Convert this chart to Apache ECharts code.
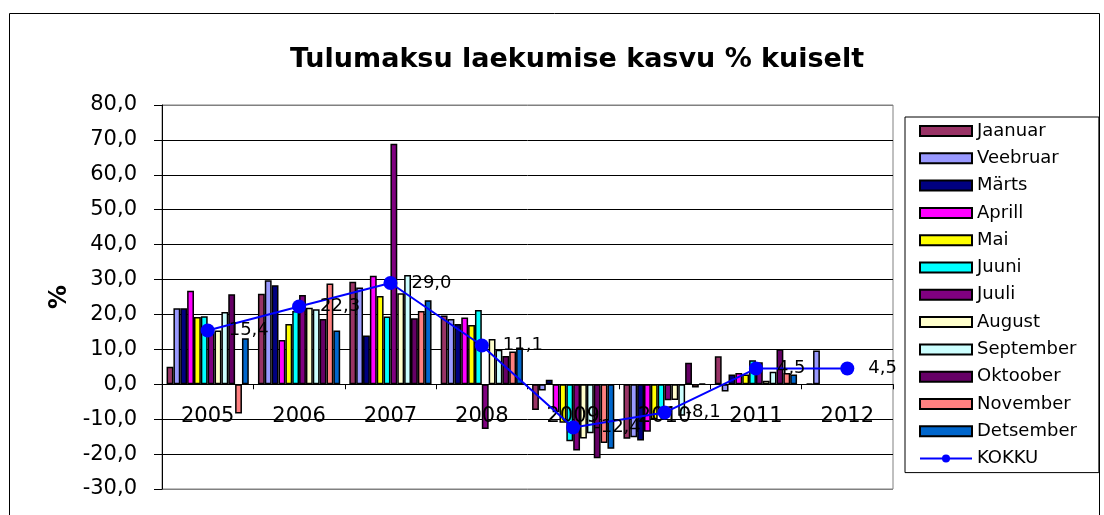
<!DOCTYPE html>
<html>
<head>
<meta charset="utf-8">
<script src="https://cdn.jsdelivr.net/npm/echarts@6/dist/echarts.min.js"></script>
<style>
html,body{margin:0;padding:0;background:#fff;}
#chart{width:1104px;height:515px;}
</style>
</head>
<body>
<div id="chart"></div>
<script>
const categories = ['2005','2006','2007','2008','2009','2010','2011','2012'];
const monthNames = ['Jaanuar','Veebruar','Märts','Aprill','Mai','Juuni','Juuli','August','September','Oktoober','November','Detsember'];
const jaanuar   = [5.0, 25.9, 29.4, 19.7, -7.4, -15.6, 8.0, 0.2];
const veebruar  = [21.8, 29.8, 27.7, 18.7, -1.8, -15.2, -2.1, 9.7];
const marts     = [21.8, 28.4, 14.0, 17.3, 1.3, -16.1, 2.8, null];
const aprill    = [26.8, 12.7, 31.1, 19.1, -8.0, -13.6, 3.2, null];
const mai       = [19.3, 17.3, 25.3, 17.0, -11.0, -10.0, 2.8, null];
const juuni     = [19.5, 21.0, 19.4, 21.3, -16.3, -8.5, 6.9, null];
const juuli     = [15.0, 25.6, 68.9, -12.8, -19.0, -4.6, 6.3, null];
const august    = [15.4, 21.9, 26.1, 13.0, -15.5, -4.5, 1.0, null];
const september = [20.7, 21.5, 31.3, 9.9, -14.0, -9.0, 3.6, null];
const oktoober  = [25.8, 18.7, 18.9, 8.1, -21.2, 6.2, 10.0, null];
const november  = [-8.4, 28.9, 21.0, 9.4, -16.8, -0.9, 3.2, null];
const detsember = [13.2, 15.4, 24.1, 10.5, -18.5, 0.2, 2.8, null];
const kokku     = [15.4, 22.3, 29.0, 11.1, -12.4, -8.1, 4.5, 4.5];
const yTicks = { min: -30, max: 80, interval: 10 };

const monthData = [jaanuar, veebruar, marts, aprill, mai, juuni, juuli, august, september, oktoober, november, detsember];
const monthColors = ['#993366','#9999FF','#000080','#FF00FF','#FFFF00','#00FFFF','#800080','#FFFFCC','#CCFFFF','#660066','#FF8080','#0066CC'];
const FONT = 'DejaVu Sans';
const fmt = v => (Math.round(v * 10) / 10).toFixed(1).replace('.', ',');

const GRID = { left: 162, right: 211, top: 105, bottom: 26 };
const plotH = 515 - GRID.top - GRID.bottom;
const zeroOffset = -plotH * (0 - yTicks.min) / (yTicks.max - yTicks.min);

const series = monthNames.map((name, i) => ({
  name: name,
  type: 'bar',
  data: monthData[i],
  barGap: '0%',
  barCategoryGap: '10%',
  itemStyle: { color: monthColors[i], borderColor: '#000', borderWidth: 1.5 },
  emphasis: { disabled: true }
}));
series.push({
  name: 'KOKKU',
  type: 'line',
  data: kokku,
  symbol: 'circle',
  symbolSize: 14,
  z: 5,
  lineStyle: { color: '#0000FF', width: 2 },
  itemStyle: { color: '#0000FF' },
  label: {
    show: true, position: 'right', distance: 14,
    color: '#000', fontFamily: FONT, fontSize: 18,
    formatter: p => fmt(p.value)
  },
  emphasis: { disabled: true }
});

const nLines = (yTicks.max - yTicks.min) / yTicks.interval + 1;
const splitColors = [];
for (let i = 0; i < nLines; i++) splitColors.push(i === 0 || i === nLines - 1 ? '#808080' : '#000');

const legendData = monthNames.map(n => ({ name: n, icon: 'rect' }));
legendData.push({ name: 'KOKKU' });

const chart = echarts.init(document.getElementById('chart'), null, { renderer: 'canvas' });
chart.setOption({
  animation: false,
  backgroundColor: '#fff',
  title: {
    text: 'Tulumaksu laekumise kasvu % kuiselt',
    left: 572, top: 41, textAlign: 'center',
    textStyle: { fontFamily: FONT, fontSize: 27, fontWeight: 'bold', color: '#000' }
  },
  graphic: [{
    type: 'rect', left: 7, top: 11, silent: true,
    shape: { width: 1090, height: 520 },
    style: { fill: 'none', stroke: '#000', lineWidth: 1 }
  }],
  legend: {
    orient: 'vertical',
    left: 905, top: 117,
    padding: [4, 22, 4, 14],
    itemWidth: 52, itemHeight: 10, itemGap: 7.3,
    borderColor: '#000', borderWidth: 1,
    textStyle: { fontFamily: FONT, fontSize: 18, color: '#000', lineHeight: 20 },
    data: legendData
  },
  grid: {
    left: GRID.left, right: GRID.right, top: GRID.top, bottom: GRID.bottom,
    outerBoundsMode: 'none', containLabel: false,
    show: true, borderColor: '#808080', borderWidth: 1
  },
  xAxis: {
    type: 'category',
    data: categories,
    position: 'bottom',
    offset: zeroOffset,
    z: 4,
    axisLine: { onZero: false, lineStyle: { color: '#000', width: 1 } },
    axisTick: { show: true, length: 5, lineStyle: { color: '#000' } },
    axisLabel: { interval: 0, margin: 22, fontFamily: FONT, fontSize: 21, color: '#000' },
    splitLine: { show: false }
  },
  yAxis: {
    type: 'value',
    min: yTicks.min, max: yTicks.max, interval: yTicks.interval,
    name: '%', nameLocation: 'middle', nameRotate: 90, nameGap: 90,
    nameTextStyle: { fontFamily: FONT, fontSize: 24, fontWeight: 'bold', color: '#000' },
    axisLine: { show: true, lineStyle: { color: '#000', width: 1 } },
    axisTick: { show: true, length: 8, lineStyle: { color: '#000' } },
    axisLabel: { margin: 25, fontFamily: FONT, fontSize: 21, color: '#000', formatter: v => fmt(v) },
    splitLine: { show: true, lineStyle: { color: splitColors, width: 1 } }
  },
  series: series
});
</script>
</body>
</html>
